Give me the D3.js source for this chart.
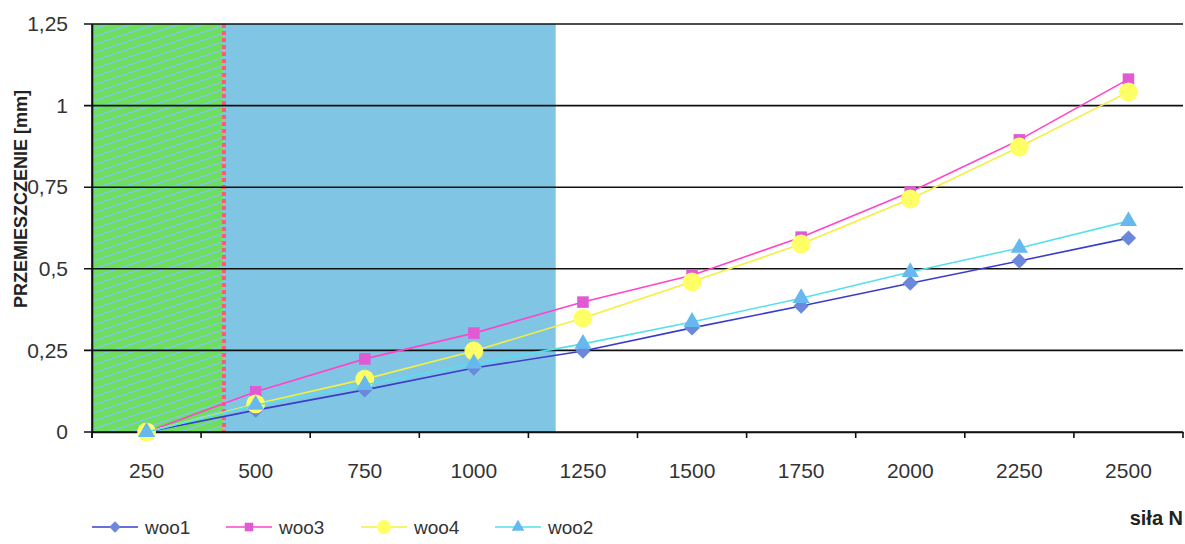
<!DOCTYPE html>
<html><head><meta charset="utf-8">
<script src="https://cdn.jsdelivr.net/npm/d3@7"></script>
<style>body{margin:0;background:#fff}svg{display:block}text{font-family:Arial,"Liberation Sans",sans-serif}</style>
</head><body>
<svg id="c" width="1185" height="544"></svg>
<script>
const categories = [250,500,750,1000,1250,1500,1750,2000,2250,2500];
const woo1 = [0,0.067,0.129,0.196,0.248,0.319,0.386,0.456,0.524,0.594];
const woo3 = [0,0.123,0.224,0.303,0.398,0.48,0.597,0.735,0.895,1.081];
const woo4 = [0,0.086,0.162,0.248,0.349,0.46,0.576,0.714,0.873,1.042];
const woo2 = [0,0.083,0.144,0.21,0.27,0.337,0.41,0.49,0.564,0.646];
const yTicks = [0,0.25,0.5,0.75,1,1.25];
const yTickLabels = ["0","0,25","0,5","0,75","1","1,25"];
const seriesNames = ["woo1","woo3","woo4","woo2"];
// shaded regions, in category-index units
const greenEnd = 1.2, blueEnd = 4.25;

const svg = d3.select("#c");
const L=92, R=1183, T=24, B=432;
const x = d3.scaleBand().domain(categories).range([L,R]).padding(0);
const xi = d3.scaleLinear().domain([0,categories.length]).range([L,R]);
const y = d3.scaleLinear().domain([0,1.25]).range([B,T]);

const defs = svg.append("defs");
const pat = defs.append("pattern").attr("id","hatch").attr("patternUnits","userSpaceOnUse")
  .attr("width",24).attr("height",8);
pat.append("rect").attr("width",24).attr("height",8).attr("fill","#6ddf5c");
pat.append("path").attr("d","M-24,12 L48,-12 M-24,20 L48,-4 M-24,4 L48,-20").attr("stroke","#84c4e8").attr("stroke-width",1.6);

svg.append("rect").attr("x",xi(0)).attr("y",T).attr("width",xi(greenEnd)-xi(0)).attr("height",B-T).attr("fill","url(#hatch)");
svg.append("rect").attr("x",xi(greenEnd)).attr("y",T).attr("width",xi(blueEnd)-xi(greenEnd)).attr("height",B-T).attr("fill","#80c6e4");
svg.append("line").attr("x1",xi(greenEnd)+1).attr("x2",xi(greenEnd)+1).attr("y1",T).attr("y2",B)
  .attr("stroke","#ff5a6e").attr("stroke-width",4).attr("stroke-dasharray","4,3");

// gridlines
svg.append("g").selectAll("line").data(yTicks).join("line")
  .attr("x1",L-8).attr("x2",R).attr("y1",d=>y(d)).attr("y2",d=>y(d))
  .attr("stroke","#111").attr("stroke-width",1.6);

// y axis
const yAxis = d3.axisLeft(y).tickValues(yTicks).tickFormat((d,i)=>yTickLabels[i]).tickSize(0).tickPadding(24);
const gy = svg.append("g").attr("transform",`translate(${L},0)`).call(yAxis);
gy.select(".domain").attr("stroke","#111").attr("stroke-width",1.6);
gy.selectAll("text").attr("font-size",21).attr("fill","#333");
svg.append("line").attr("x1",L).attr("x2",L).attr("y1",T).attr("y2",B+6).attr("stroke","#111").attr("stroke-width",1.6);

// x axis
const gx = svg.append("g").attr("transform",`translate(0,${B})`)
  .call(d3.axisBottom(x).tickSize(0).tickPadding(31));
gx.select(".domain").attr("stroke","#111").attr("stroke-width",1.6);
gx.selectAll("text").attr("font-size",21).attr("fill","#333");
svg.append("g").selectAll("line").data(d3.range(categories.length+1)).join("line")
  .attr("x1",d=>xi(d)).attr("x2",d=>xi(d)).attr("y1",B).attr("y2",B+6).attr("stroke","#111").attr("stroke-width",1.6);

// series
const styles = {
  woo1:{data:woo1,line:"#3a3ccc",fill:"#6c88dc",sym:d3.symbolDiamond2,size:150},
  woo3:{data:woo3,line:"#ff44cc",fill:"#e05ad2",sym:d3.symbolSquare2,size:170},
  woo4:{data:woo4,line:"#f2f040",fill:"#ffff66",sym:d3.symbolCircle,size:280},
  woo2:{data:woo2,line:"#55dff0",fill:"#66b8ee",sym:d3.symbolTriangle2,size:210}
};
const cx = d=>x(d)+x.bandwidth()/2;
seriesNames.forEach(name=>{
  const s = styles[name];
  const pts = categories.map((c,i)=>[cx(c),y(s.data[i])]);
  svg.append("path").attr("d",d3.line()(pts)).attr("fill","none").attr("stroke",s.line).attr("stroke-width",1.6);
  svg.append("g").selectAll("path").data(pts).join("path")
    .attr("transform",d=>`translate(${d[0]},${d[1]})`)
    .attr("d",d3.symbol().type(s.sym).size(s.size)).attr("fill",s.fill);
});

// axis titles
svg.append("text").attr("transform","translate(27,199) rotate(-90)").attr("text-anchor","middle")
  .attr("font-size",18).attr("font-weight","bold").attr("fill","#222").text("PRZEMIESZCZENIE [mm]");
svg.append("text").attr("x",1183).attr("y",525).attr("text-anchor","end")
  .attr("font-size",20).attr("font-weight","bold").attr("fill","#222").text("siła N");

// legend
const lg = svg.append("g");
const lx = [92,226,361,495];
seriesNames.forEach((name,i)=>{
  const s = styles[name];
  const g = lg.append("g").attr("transform",`translate(${lx[i]},527)`);
  g.append("line").attr("x1",0).attr("x2",46).attr("stroke",s.line).attr("stroke-width",1.6);
  g.append("path").attr("transform","translate(23,0)").attr("d",d3.symbol().type(s.sym).size(s.size*0.55)).attr("fill",s.fill);
  g.append("text").attr("x",53).attr("y",7).attr("font-size",19).attr("fill","#333").text(name);
});
</script>
</body></html>
